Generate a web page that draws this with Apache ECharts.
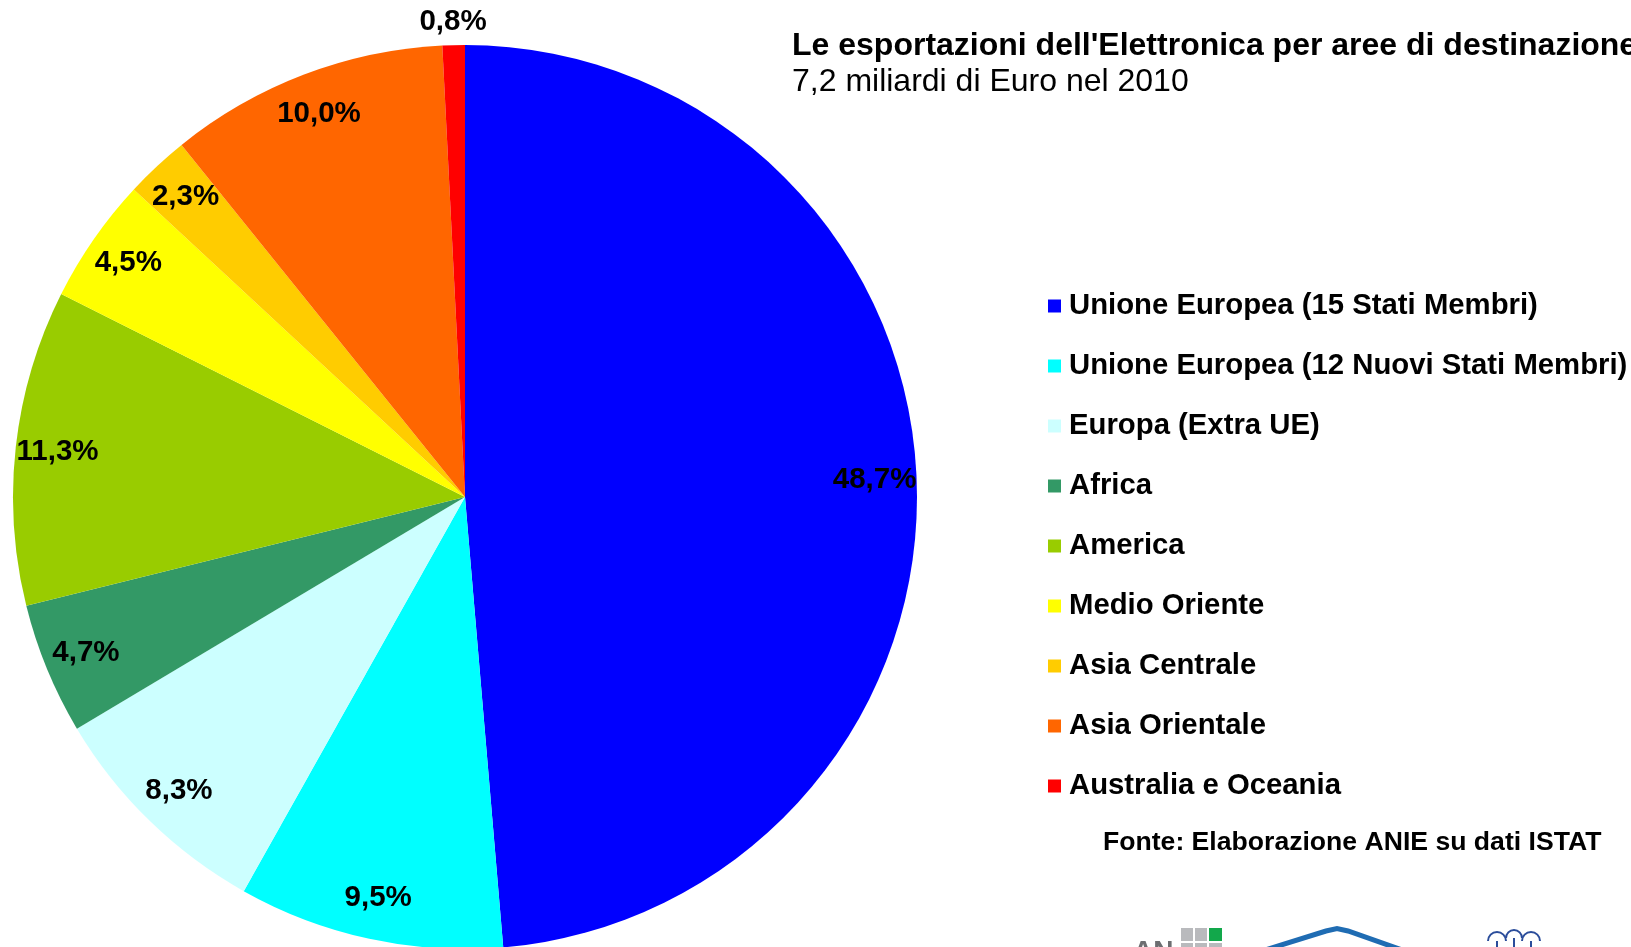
<!DOCTYPE html>
<html>
<head>
<meta charset="utf-8">
<script src="https://cdn.jsdelivr.net/npm/echarts@6/dist/echarts.min.js"></script>
<style>
html,body{margin:0;padding:0;background:#fff;}
#chart{width:1631px;height:947px;}
</style>
</head>
<body>
<div id="chart"></div>
<script>
const categories = [
  'Unione Europea (15 Stati Membri)',
  'Unione Europea (12 Nuovi Stati Membri)',
  'Europa (Extra UE)',
  'Africa',
  'America',
  'Medio Oriente',
  'Asia Centrale',
  'Asia Orientale',
  'Australia e Oceania'
];
const values = [48.7, 9.5, 8.3, 4.7, 11.3, 4.5, 2.3, 10.0, 0.8];
const colors = ['#0000FF', '#00FFFF', '#CCFFFF', '#339966', '#99CC00', '#FFFF00', '#FFCC00', '#FF6600', '#FF0000'];
const titleText = "Le esportazioni dell'Elettronica per aree di destinazione";
const subtitleText = '7,2 miliardi di Euro nel 2010';
const sourceText = 'Fonte: Elaborazione ANIE su dati ISTAT';

const FONT = "'Liberation Sans', Arial, sans-serif";
const fmt = v => v.toFixed(1).replace('.', ',') + '%';

const pieData = categories.map((n, i) => ({ name: n, value: values[i], itemStyle: { color: colors[i] } }));
const labelData = categories.map((n, i) => {
  const d = { name: n, value: values[i] };
  if (i === categories.length - 1) {
    d.label = { position: 'outside', distanceToLabelLine: 0 };
    d.labelLine = { show: false, length: 23, length2: 0 };
  }
  return d;
});

const chart = echarts.init(document.getElementById('chart'), null, { renderer: 'canvas' });
chart.setOption({
  animation: false,
  backgroundColor: '#ffffff',
  title: [
    {
      text: titleText,
      subtext: subtitleText,
      left: 792, top: 28, itemGap: 0, padding: 0,
      textStyle: { fontFamily: FONT, fontSize: 32, fontWeight: 'bold', color: '#000', lineHeight: 36 },
      subtextStyle: { fontFamily: FONT, fontSize: 32, fontWeight: 'normal', color: '#000', lineHeight: 36 }
    },
    {
      text: sourceText,
      left: 1103, top: 828, padding: 0,
      textStyle: { fontFamily: FONT, fontSize: 26.6, fontWeight: 'bold', color: '#000', lineHeight: 30 }
    }
  ],
  legend: {
    data: categories,
    orient: 'vertical',
    left: 1048, top: 291, padding: 0,
    itemWidth: 13, itemHeight: 13, itemGap: 30,
    icon: 'rect',
    selectedMode: false,
    textStyle: { fontFamily: FONT, fontSize: 29.3, fontWeight: 'bold', color: '#000', lineHeight: 30, padding: [0, 0, 0, 3] }
  },
  series: [
    {
      type: 'pie',
      center: [465, 497],
      radius: [0, 452],
      startAngle: 90,
      clockwise: true,
      silent: true,
      label: { show: false },
      labelLine: { show: false },
      emphasis: { disabled: true },
      itemStyle: { borderWidth: 0 },
      data: pieData
    },
    {
      type: 'pie',
      center: [465, 497],
      radius: [362, 452],
      startAngle: 90,
      clockwise: true,
      silent: true,
      avoidLabelOverlap: false,
      emphasis: { disabled: true },
      itemStyle: { color: 'rgba(0,0,0,0)', borderWidth: 0 },
      label: {
        show: true, position: 'inside',
        fontFamily: FONT, fontSize: 29.5, fontWeight: 'bold', color: '#000',
        formatter: p => fmt(p.value)
      },
      labelLine: { show: false },
      labelLayout: p => (p.dataIndex === categories.length - 1 ? { align: 'center' } : {}),
      data: labelData
    }
  ],
  graphic: [
    { type: 'text', left: 1133, top: 938, silent: true, style: { text: 'AN', font: "bold 28px 'Liberation Sans', Arial", fill: '#6d6e71' } },
    { type: 'rect', shape: { x: 1181, y: 928, width: 12, height: 13 }, style: { fill: '#b9babd' }, silent: true },
    { type: 'rect', shape: { x: 1195, y: 928, width: 12, height: 13 }, style: { fill: '#b9babd' }, silent: true },
    { type: 'rect', shape: { x: 1209, y: 928, width: 13, height: 13 }, style: { fill: '#12a84b' }, silent: true },
    { type: 'rect', shape: { x: 1181, y: 943, width: 12, height: 10 }, style: { fill: '#b9babd' }, silent: true },
    { type: 'rect', shape: { x: 1195, y: 943, width: 12, height: 10 }, style: { fill: '#b9babd' }, silent: true },
    { type: 'rect', shape: { x: 1209, y: 943, width: 13, height: 10 }, style: { fill: '#b9babd' }, silent: true },
    { type: 'polyline', silent: true, shape: { points: [[1262, 951], [1326, 931], [1337, 928.5], [1348, 931], [1405, 951]] }, style: { stroke: '#1f6cb3', lineWidth: 5, fill: null } },
    { type: 'arc', silent: true, shape: { cx: 1497, cy: 941, r: 9, startAngle: Math.PI, endAngle: 2 * Math.PI }, style: { stroke: '#2b4d9b', lineWidth: 2, fill: null } },
    { type: 'arc', silent: true, shape: { cx: 1514, cy: 938, r: 8, startAngle: Math.PI, endAngle: 2 * Math.PI }, style: { stroke: '#2b4d9b', lineWidth: 2, fill: null } },
    { type: 'arc', silent: true, shape: { cx: 1531, cy: 941, r: 9, startAngle: Math.PI, endAngle: 2 * Math.PI }, style: { stroke: '#2b4d9b', lineWidth: 2, fill: null } },
    { type: 'line', silent: true, shape: { x1: 1497, y1: 941, x2: 1497, y2: 947 }, style: { stroke: '#2b4d9b', lineWidth: 2 } },
    { type: 'line', silent: true, shape: { x1: 1514, y1: 938, x2: 1514, y2: 947 }, style: { stroke: '#2b4d9b', lineWidth: 2 } },
    { type: 'line', silent: true, shape: { x1: 1531, y1: 941, x2: 1531, y2: 947 }, style: { stroke: '#2b4d9b', lineWidth: 2 } }
  ]
});
</script>
</body>
</html>
